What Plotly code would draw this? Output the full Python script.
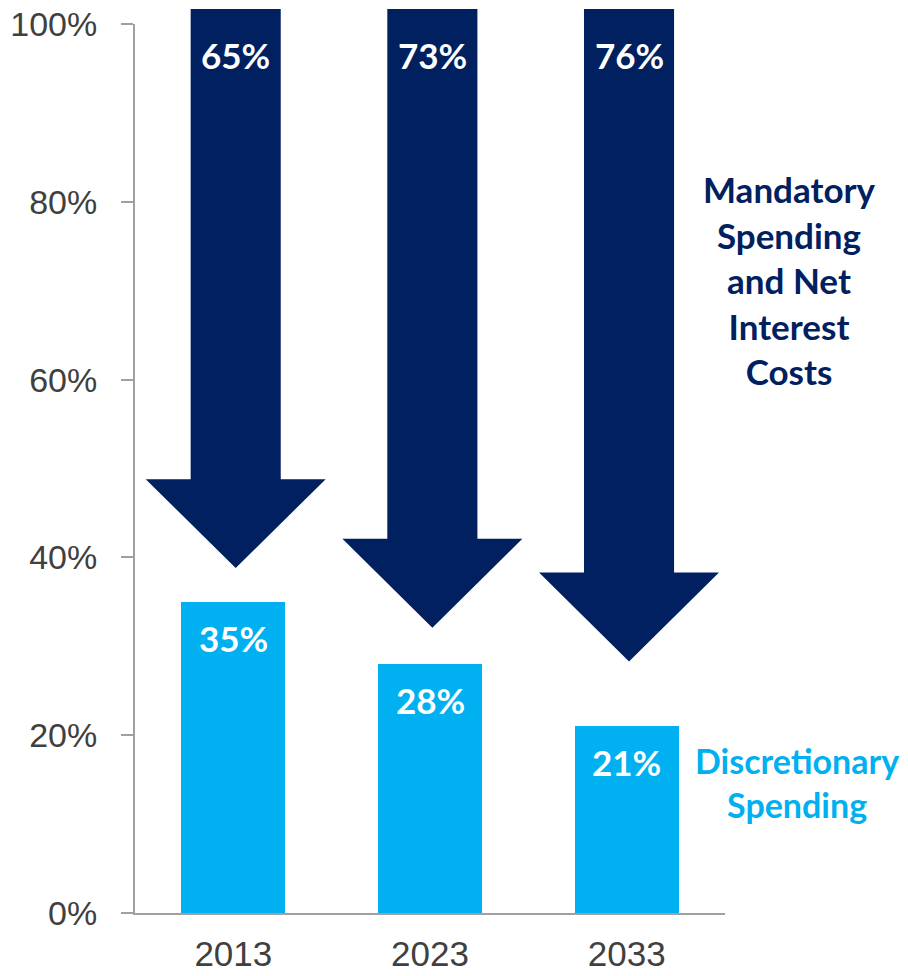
import plotly.graph_objects as go

# ---- data ----
years = ["2013", "2023", "2033"]
discretionary = [35, 28, 21]          # % of outlays
mandatory = [65, 73, 76]              # % of outlays (mandatory + net interest)
arrow_tip = [38.8, 32.1, 28.3]        # level (%) where each downward arrow ends
y_ticks = [0, 20, 40, 60, 80, 100]
y_tick_labels = ["0%", "20%", "40%", "60%", "80%", "100%"]

NAVY = "#002060"
CYAN = "#00B0F0"
GREY_TXT = "#404040"
AXIS = "#A0A0A0"
BOLD_FONT = "Lato"
BOLD_SIZE = 35

x_idx = list(range(len(years)))

fig = go.Figure()
fig.add_trace(go.Bar(
    x=x_idx, y=discretionary, width=0.53,
    marker=dict(color=CYAN, line=dict(width=0)),
    hoverinfo="skip", showlegend=False,
))

YMAX = 100.0
shift = 0.012
head_hw = 0.4575
shaft_hw = 0.229
head_h = 10.0
shaft_top = 101.7

for i, (tip, m) in enumerate(zip(arrow_tip, mandatory)):
    cx = x_idx[i] + shift
    base = tip + head_h
    pts = [
        (cx - shaft_hw, shaft_top),
        (cx + shaft_hw, shaft_top),
        (cx + shaft_hw, base),
        (cx + head_hw, base),
        (cx, tip),
        (cx - head_hw, base),
        (cx - shaft_hw, base),
    ]
    path = "M " + " L ".join(f"{px:.4f},{py / YMAX:.5f}" for px, py in pts) + " Z"
    fig.add_shape(type="path", path=path, xref="x", yref="y domain",
                  fillcolor=NAVY, line=dict(width=0), layer="above")
    fig.add_annotation(x=cx, y=1.0, xref="x", yref="y domain",
                       text=f"<b>{m}%</b>", showarrow=False, yshift=-31,
                       xanchor="center", yanchor="middle",
                       font=dict(family=BOLD_FONT, size=BOLD_SIZE, color="white"))

for i, v in enumerate(discretionary):
    fig.add_annotation(x=x_idx[i], y=v, xref="x", yref="y",
                       text=f"<b>{v}%</b>", showarrow=False, yshift=-36,
                       xanchor="center", yanchor="middle",
                       font=dict(family=BOLD_FONT, size=BOLD_SIZE, color="white"))

fig.add_annotation(x=1.110, y=0.712, xref="paper", yref="paper",
                   text="<b>Mandatory<br>Spending<br>and Net<br>Interest<br>Costs</b>",
                   showarrow=False, align="center", xanchor="center", yanchor="middle",
                   font=dict(family=BOLD_FONT, size=BOLD_SIZE, color=NAVY))
fig.add_annotation(x=1.122, y=0.147, xref="paper", yref="paper",
                   text="<b>Discretionary<br>Spending</b>",
                   showarrow=False, align="center", xanchor="center", yanchor="middle",
                   font=dict(family=BOLD_FONT, size=34, color=CYAN))

fig.update_layout(
    template="none",
    width=892, height=960,
    margin=dict(l=127, r=175, t=16, b=55, autoexpand=False),
    paper_bgcolor="white", plot_bgcolor="white",
    bargap=0,
)
fig.update_xaxes(
    range=[-0.5, 2.5], tickvals=x_idx, ticktext=years,
    showline=True, linecolor=AXIS, linewidth=2, ticks="",
    showgrid=False, zeroline=False, automargin=False,
    tickfont=dict(family="Liberation Sans", size=35, color=GREY_TXT),
    ticklabelstandoff=9, ticklabeloverflow="allow",
)
fig.update_yaxes(
    range=[0, YMAX], tickvals=y_ticks, ticktext=y_tick_labels,
    showline=True, linecolor=AXIS, linewidth=2,
    ticks="outside", ticklen=12, tickcolor=AXIS, tickwidth=2,
    showgrid=False, zeroline=False, automargin=False,
    tickfont=dict(family="Liberation Sans", size=34, color=GREY_TXT),
    ticklabelstandoff=17, ticklabeloverflow="allow",
)

fig.write_html("out.html")
